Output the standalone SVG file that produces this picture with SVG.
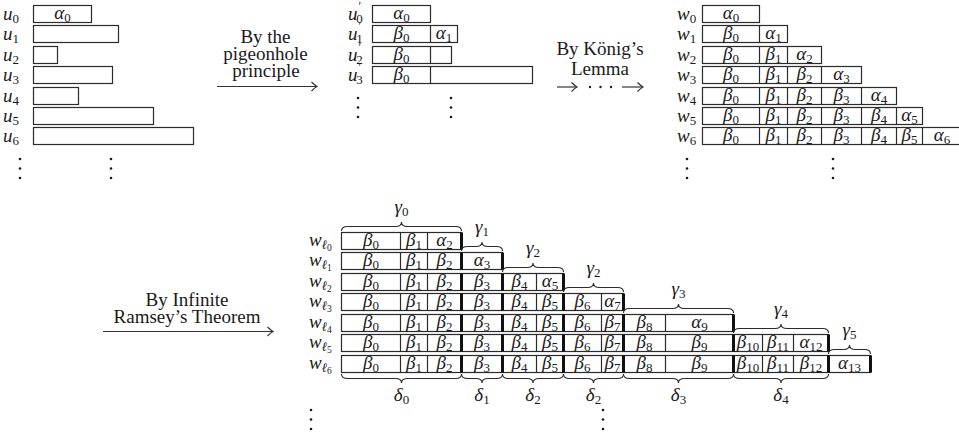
<svg xmlns="http://www.w3.org/2000/svg" width="959" height="437" viewBox="0 0 959 437">
<style>
.bx{fill:none;stroke:#2b2b2b;stroke-width:1.2}
.ln{stroke:#2b2b2b;stroke-width:1.2}
.tk{stroke:#111;stroke-width:3}
.m{font-family:"Liberation Serif","DejaVu Serif",serif;font-style:italic;font-size:19px;fill:#1a1a1a}
.c{text-anchor:middle}
.s{font-size:13px;font-style:normal}
.si{font-size:13px;font-style:italic}
.ss{font-size:9.5px;font-style:normal}
.pr{font-size:12px;font-style:normal}
.t{font-family:"Liberation Serif","DejaVu Serif",serif;font-size:19px;fill:#1a1a1a;text-anchor:middle}
.br{fill:none;stroke:#2b2b2b;stroke-width:1.1}
.ar{fill:none;stroke:#333;stroke-width:1.2}
.d{fill:#1a1a1a}
</style>

<!-- Panel 1: u rows -->
<g id="panel-u">
  <g id="u0"><text class="m" x="3" y="20">u<tspan class="s" dy="3">0</tspan></text><rect class="bx" x="33.5" y="5.5" width="58" height="17"/><text class="m c" x="62.5" y="19">α<tspan class="s" dy="3">0</tspan></text></g>
  <g id="u1"><text class="m" x="3" y="40">u<tspan class="s" dy="3">1</tspan></text><rect class="bx" x="33.5" y="25.5" width="85" height="17"/></g>
  <g id="u2"><text class="m" x="3" y="61">u<tspan class="s" dy="3">2</tspan></text><rect class="bx" x="33.5" y="46.5" width="24" height="17"/></g>
  <g id="u3"><text class="m" x="3" y="81">u<tspan class="s" dy="3">3</tspan></text><rect class="bx" x="33.5" y="66.5" width="79" height="17"/></g>
  <g id="u4"><text class="m" x="3" y="102">u<tspan class="s" dy="3">4</tspan></text><rect class="bx" x="33.5" y="87.5" width="45" height="17"/></g>
  <g id="u5"><text class="m" x="3" y="122">u<tspan class="s" dy="3">5</tspan></text><rect class="bx" x="33.5" y="107.5" width="120" height="17"/></g>
  <g id="u6"><text class="m" x="3" y="142">u<tspan class="s" dy="3">6</tspan></text><rect class="bx" x="33.5" y="127.5" width="160" height="17"/></g>
  <g id="u-dots"><circle class="d" cx="20" cy="159" r="1.3"/><circle class="d" cx="20" cy="168.5" r="1.3"/><circle class="d" cx="20" cy="178" r="1.3"/><circle class="d" cx="111" cy="159" r="1.3"/><circle class="d" cx="111" cy="168.5" r="1.3"/><circle class="d" cx="111" cy="178" r="1.3"/></g>
</g>

<!-- Panel 2: u' rows -->
<g id="panel-uprime">
  <g id="up0"><text class="m" x="348" y="20">u<tspan class="pr" dx="1" dy="-10">′</tspan><tspan class="s" dx="-5" dy="13">0</tspan></text><rect class="bx" x="372.5" y="5.5" width="58" height="17"/><text class="m c" x="401.5" y="19">α<tspan class="s" dy="3">0</tspan></text></g>
  <g id="up1"><text class="m" x="348" y="40">u<tspan class="pr" dx="1" dy="-10">′</tspan><tspan class="s" dx="-5" dy="13">1</tspan></text><rect class="bx" x="372.5" y="25.5" width="85" height="17"/><line class="ln" x1="430.5" y1="25.5" x2="430.5" y2="42.5"/><text class="m c" x="401.5" y="39">β<tspan class="s" dy="3">0</tspan></text><text class="m c" x="444" y="39">α<tspan class="s" dy="3">1</tspan></text></g>
  <g id="up2"><text class="m" x="348" y="61">u<tspan class="pr" dx="1" dy="-10">′</tspan><tspan class="s" dx="-5" dy="13">2</tspan></text><rect class="bx" x="372.5" y="46.5" width="79" height="17"/><line class="ln" x1="430.5" y1="46.5" x2="430.5" y2="63.5"/><text class="m c" x="401.5" y="60">β<tspan class="s" dy="3">0</tspan></text></g>
  <g id="up3"><text class="m" x="348" y="81">u<tspan class="pr" dx="1" dy="-10">′</tspan><tspan class="s" dx="-5" dy="13">3</tspan></text><rect class="bx" x="372.5" y="66.5" width="160" height="17"/><line class="ln" x1="430.5" y1="66.5" x2="430.5" y2="83.5"/><text class="m c" x="401.5" y="80">β<tspan class="s" dy="3">0</tspan></text></g>
  <g id="up-dots"><circle class="d" cx="358" cy="98" r="1.3"/><circle class="d" cx="358" cy="107.5" r="1.3"/><circle class="d" cx="358" cy="117" r="1.3"/><circle class="d" cx="451" cy="98" r="1.3"/><circle class="d" cx="451" cy="107.5" r="1.3"/><circle class="d" cx="451" cy="117" r="1.3"/></g>
</g>

<!-- Panel 3: w rows -->
<g id="panel-w">
  <g id="w0"><text class="m" x="677" y="20">w<tspan class="s" dy="3">0</tspan></text><rect class="bx" x="702.5" y="5.5" width="57" height="17"/><text class="m c" x="731" y="19">α<tspan class="s" dy="3">0</tspan></text></g>
  <g id="w1"><text class="m" x="677" y="40">w<tspan class="s" dy="3">1</tspan></text><rect class="bx" x="702.5" y="25.5" width="85" height="17"/><line class="ln" x1="759.5" y1="25.5" x2="759.5" y2="42.5"/><text class="m c" x="731" y="39">β<tspan class="s" dy="3">0</tspan></text><text class="m c" x="773.5" y="39">α<tspan class="s" dy="3">1</tspan></text></g>
  <g id="w2"><text class="m" x="677" y="61">w<tspan class="s" dy="3">2</tspan></text><rect class="bx" x="702.5" y="46.5" width="119" height="17"/><line class="ln" x1="759.5" y1="46.5" x2="759.5" y2="63.5"/><line class="ln" x1="787.5" y1="46.5" x2="787.5" y2="63.5"/><text class="m c" x="731" y="60">β<tspan class="s" dy="3">0</tspan></text><text class="m c" x="773.5" y="60">β<tspan class="s" dy="3">1</tspan></text><text class="m c" x="804.5" y="60">α<tspan class="s" dy="3">2</tspan></text></g>
  <g id="w3"><text class="m" x="677" y="81">w<tspan class="s" dy="3">3</tspan></text><rect class="bx" x="702.5" y="66.5" width="159" height="17"/><line class="ln" x1="759.5" y1="66.5" x2="759.5" y2="83.5"/><line class="ln" x1="787.5" y1="66.5" x2="787.5" y2="83.5"/><line class="ln" x1="821.5" y1="66.5" x2="821.5" y2="83.5"/><text class="m c" x="731" y="80">β<tspan class="s" dy="3">0</tspan></text><text class="m c" x="773.5" y="80">β<tspan class="s" dy="3">1</tspan></text><text class="m c" x="804.5" y="80">β<tspan class="s" dy="3">2</tspan></text><text class="m c" x="841.5" y="80">α<tspan class="s" dy="3">3</tspan></text></g>
  <g id="w4"><text class="m" x="677" y="102">w<tspan class="s" dy="3">4</tspan></text><rect class="bx" x="702.5" y="87.5" width="194" height="17"/><line class="ln" x1="759.5" y1="87.5" x2="759.5" y2="104.5"/><line class="ln" x1="787.5" y1="87.5" x2="787.5" y2="104.5"/><line class="ln" x1="821.5" y1="87.5" x2="821.5" y2="104.5"/><line class="ln" x1="861.5" y1="87.5" x2="861.5" y2="104.5"/><text class="m c" x="731" y="101">β<tspan class="s" dy="3">0</tspan></text><text class="m c" x="773.5" y="101">β<tspan class="s" dy="3">1</tspan></text><text class="m c" x="804.5" y="101">β<tspan class="s" dy="3">2</tspan></text><text class="m c" x="841.5" y="101">β<tspan class="s" dy="3">3</tspan></text><text class="m c" x="879" y="101">α<tspan class="s" dy="3">4</tspan></text></g>
  <g id="w5"><text class="m" x="677" y="122">w<tspan class="s" dy="3">5</tspan></text><rect class="bx" x="702.5" y="107.5" width="220" height="17"/><line class="ln" x1="759.5" y1="107.5" x2="759.5" y2="124.5"/><line class="ln" x1="787.5" y1="107.5" x2="787.5" y2="124.5"/><line class="ln" x1="821.5" y1="107.5" x2="821.5" y2="124.5"/><line class="ln" x1="861.5" y1="107.5" x2="861.5" y2="124.5"/><line class="ln" x1="896.5" y1="107.5" x2="896.5" y2="124.5"/><text class="m c" x="731" y="121">β<tspan class="s" dy="3">0</tspan></text><text class="m c" x="773.5" y="121">β<tspan class="s" dy="3">1</tspan></text><text class="m c" x="804.5" y="121">β<tspan class="s" dy="3">2</tspan></text><text class="m c" x="841.5" y="121">β<tspan class="s" dy="3">3</tspan></text><text class="m c" x="879" y="121">β<tspan class="s" dy="3">4</tspan></text><text class="m c" x="909.5" y="121">α<tspan class="s" dy="3">5</tspan></text></g>
  <g id="w6"><text class="m" x="677" y="142">w<tspan class="s" dy="3">6</tspan></text><rect class="bx" x="702.5" y="127.5" width="270" height="17"/><line class="ln" x1="759.5" y1="127.5" x2="759.5" y2="144.5"/><line class="ln" x1="787.5" y1="127.5" x2="787.5" y2="144.5"/><line class="ln" x1="821.5" y1="127.5" x2="821.5" y2="144.5"/><line class="ln" x1="861.5" y1="127.5" x2="861.5" y2="144.5"/><line class="ln" x1="896.5" y1="127.5" x2="896.5" y2="144.5"/><line class="ln" x1="922.5" y1="127.5" x2="922.5" y2="144.5"/><text class="m c" x="731" y="141">β<tspan class="s" dy="3">0</tspan></text><text class="m c" x="773.5" y="141">β<tspan class="s" dy="3">1</tspan></text><text class="m c" x="804.5" y="141">β<tspan class="s" dy="3">2</tspan></text><text class="m c" x="841.5" y="141">β<tspan class="s" dy="3">3</tspan></text><text class="m c" x="879" y="141">β<tspan class="s" dy="3">4</tspan></text><text class="m c" x="909.5" y="141">β<tspan class="s" dy="3">5</tspan></text><text class="m c" x="942" y="141">α<tspan class="s" dy="3">6</tspan></text></g>
  <g id="w-dots"><circle class="d" cx="687" cy="159" r="1.3"/><circle class="d" cx="687" cy="168.5" r="1.3"/><circle class="d" cx="687" cy="178" r="1.3"/><circle class="d" cx="833" cy="159" r="1.3"/><circle class="d" cx="833" cy="168.5" r="1.3"/><circle class="d" cx="833" cy="178" r="1.3"/></g>
</g>

<!-- Panel 4: w_l rows -->
<g id="panel-wl">
  <g id="wl0"><text class="m" x="309" y="246">w<tspan class="si" dy="2.5">ℓ</tspan><tspan class="ss" dy="2">0</tspan></text>
    <rect class="bx" x="341.5" y="232.5" width="120" height="17"/>
    <line class="ln" x1="400.5" y1="232.5" x2="400.5" y2="249.5"/><line class="ln" x1="427.5" y1="232.5" x2="427.5" y2="249.5"/>
    <line class="tk" x1="461.5" y1="232.5" x2="461.5" y2="249.5"/>
    <text class="m c" x="371" y="246">β<tspan class="s" dy="3">0</tspan></text><text class="m c" x="414" y="246">β<tspan class="s" dy="3">1</tspan></text><text class="m c" x="444.5" y="246">α<tspan class="s" dy="3">2</tspan></text></g>
  <g id="wl1"><text class="m" x="309" y="266">w<tspan class="si" dy="2.5">ℓ</tspan><tspan class="ss" dy="2">1</tspan></text>
    <rect class="bx" x="341.5" y="252.5" width="161" height="17"/>
    <line class="ln" x1="400.5" y1="252.5" x2="400.5" y2="269.5"/><line class="ln" x1="427.5" y1="252.5" x2="427.5" y2="269.5"/>
    <line class="tk" x1="461.5" y1="252.5" x2="461.5" y2="269.5"/><line class="tk" x1="502.5" y1="252.5" x2="502.5" y2="269.5"/>
    <text class="m c" x="371" y="266">β<tspan class="s" dy="3">0</tspan></text><text class="m c" x="414" y="266">β<tspan class="s" dy="3">1</tspan></text><text class="m c" x="444.5" y="266">β<tspan class="s" dy="3">2</tspan></text><text class="m c" x="482" y="266">α<tspan class="s" dy="3">3</tspan></text></g>
  <g id="wl2"><text class="m" x="309" y="287">w<tspan class="si" dy="2.5">ℓ</tspan><tspan class="ss" dy="2">2</tspan></text>
    <rect class="bx" x="341.5" y="273.5" width="222" height="17"/>
    <line class="ln" x1="400.5" y1="273.5" x2="400.5" y2="290.5"/><line class="ln" x1="427.5" y1="273.5" x2="427.5" y2="290.5"/><line class="ln" x1="536.5" y1="273.5" x2="536.5" y2="290.5"/>
    <line class="tk" x1="461.5" y1="273.5" x2="461.5" y2="290.5"/><line class="tk" x1="502.5" y1="273.5" x2="502.5" y2="290.5"/><line class="tk" x1="563.5" y1="273.5" x2="563.5" y2="290.5"/>
    <text class="m c" x="371" y="287">β<tspan class="s" dy="3">0</tspan></text><text class="m c" x="414" y="287">β<tspan class="s" dy="3">1</tspan></text><text class="m c" x="444.5" y="287">β<tspan class="s" dy="3">2</tspan></text><text class="m c" x="482" y="287">β<tspan class="s" dy="3">3</tspan></text><text class="m c" x="519.5" y="287">β<tspan class="s" dy="3">4</tspan></text><text class="m c" x="550" y="287">α<tspan class="s" dy="3">5</tspan></text></g>
  <g id="wl3"><text class="m" x="309" y="307">w<tspan class="si" dy="2.5">ℓ</tspan><tspan class="ss" dy="2">3</tspan></text>
    <rect class="bx" x="341.5" y="293.5" width="282" height="17"/>
    <line class="ln" x1="400.5" y1="293.5" x2="400.5" y2="310.5"/><line class="ln" x1="427.5" y1="293.5" x2="427.5" y2="310.5"/><line class="ln" x1="536.5" y1="293.5" x2="536.5" y2="310.5"/><line class="ln" x1="601.5" y1="293.5" x2="601.5" y2="310.5"/>
    <line class="tk" x1="461.5" y1="293.5" x2="461.5" y2="310.5"/><line class="tk" x1="502.5" y1="293.5" x2="502.5" y2="310.5"/><line class="tk" x1="563.5" y1="293.5" x2="563.5" y2="310.5"/><line class="tk" x1="623.5" y1="293.5" x2="623.5" y2="310.5"/>
    <text class="m c" x="371" y="307">β<tspan class="s" dy="3">0</tspan></text><text class="m c" x="414" y="307">β<tspan class="s" dy="3">1</tspan></text><text class="m c" x="444.5" y="307">β<tspan class="s" dy="3">2</tspan></text><text class="m c" x="482" y="307">β<tspan class="s" dy="3">3</tspan></text><text class="m c" x="519.5" y="307">β<tspan class="s" dy="3">4</tspan></text><text class="m c" x="550" y="307">β<tspan class="s" dy="3">5</tspan></text><text class="m c" x="582.5" y="307">β<tspan class="s" dy="3">6</tspan></text><text class="m c" x="612.5" y="307">α<tspan class="s" dy="3">7</tspan></text></g>
  <g id="wl4"><text class="m" x="309" y="328">w<tspan class="si" dy="2.5">ℓ</tspan><tspan class="ss" dy="2">4</tspan></text>
    <rect class="bx" x="341.5" y="314.5" width="392" height="17"/>
    <line class="ln" x1="400.5" y1="314.5" x2="400.5" y2="331.5"/><line class="ln" x1="427.5" y1="314.5" x2="427.5" y2="331.5"/><line class="ln" x1="536.5" y1="314.5" x2="536.5" y2="331.5"/><line class="ln" x1="601.5" y1="314.5" x2="601.5" y2="331.5"/><line class="ln" x1="665.5" y1="314.5" x2="665.5" y2="331.5"/>
    <line class="tk" x1="461.5" y1="314.5" x2="461.5" y2="331.5"/><line class="tk" x1="502.5" y1="314.5" x2="502.5" y2="331.5"/><line class="tk" x1="563.5" y1="314.5" x2="563.5" y2="331.5"/><line class="tk" x1="623.5" y1="314.5" x2="623.5" y2="331.5"/><line class="tk" x1="733.5" y1="314.5" x2="733.5" y2="331.5"/>
    <text class="m c" x="371" y="328">β<tspan class="s" dy="3">0</tspan></text><text class="m c" x="414" y="328">β<tspan class="s" dy="3">1</tspan></text><text class="m c" x="444.5" y="328">β<tspan class="s" dy="3">2</tspan></text><text class="m c" x="482" y="328">β<tspan class="s" dy="3">3</tspan></text><text class="m c" x="519.5" y="328">β<tspan class="s" dy="3">4</tspan></text><text class="m c" x="550" y="328">β<tspan class="s" dy="3">5</tspan></text><text class="m c" x="582.5" y="328">β<tspan class="s" dy="3">6</tspan></text><text class="m c" x="612.5" y="328">β<tspan class="s" dy="3">7</tspan></text><text class="m c" x="644.5" y="328">β<tspan class="s" dy="3">8</tspan></text><text class="m c" x="699.5" y="328">α<tspan class="s" dy="3">9</tspan></text></g>
  <g id="wl5"><text class="m" x="309" y="348">w<tspan class="si" dy="2.5">ℓ</tspan><tspan class="ss" dy="2">5</tspan></text>
    <rect class="bx" x="341.5" y="334.5" width="487" height="17"/>
    <line class="ln" x1="400.5" y1="334.5" x2="400.5" y2="351.5"/><line class="ln" x1="427.5" y1="334.5" x2="427.5" y2="351.5"/><line class="ln" x1="536.5" y1="334.5" x2="536.5" y2="351.5"/><line class="ln" x1="601.5" y1="334.5" x2="601.5" y2="351.5"/><line class="ln" x1="665.5" y1="334.5" x2="665.5" y2="351.5"/><line class="ln" x1="762.5" y1="334.5" x2="762.5" y2="351.5"/><line class="ln" x1="793.5" y1="334.5" x2="793.5" y2="351.5"/>
    <line class="tk" x1="461.5" y1="334.5" x2="461.5" y2="351.5"/><line class="tk" x1="502.5" y1="334.5" x2="502.5" y2="351.5"/><line class="tk" x1="563.5" y1="334.5" x2="563.5" y2="351.5"/><line class="tk" x1="623.5" y1="334.5" x2="623.5" y2="351.5"/><line class="tk" x1="733.5" y1="334.5" x2="733.5" y2="351.5"/><line class="tk" x1="828.5" y1="334.5" x2="828.5" y2="351.5"/>
    <text class="m c" x="371" y="348">β<tspan class="s" dy="3">0</tspan></text><text class="m c" x="414" y="348">β<tspan class="s" dy="3">1</tspan></text><text class="m c" x="444.5" y="348">β<tspan class="s" dy="3">2</tspan></text><text class="m c" x="482" y="348">β<tspan class="s" dy="3">3</tspan></text><text class="m c" x="519.5" y="348">β<tspan class="s" dy="3">4</tspan></text><text class="m c" x="550" y="348">β<tspan class="s" dy="3">5</tspan></text><text class="m c" x="582.5" y="348">β<tspan class="s" dy="3">6</tspan></text><text class="m c" x="612.5" y="348">β<tspan class="s" dy="3">7</tspan></text><text class="m c" x="644.5" y="348">β<tspan class="s" dy="3">8</tspan></text><text class="m c" x="699.5" y="348">β<tspan class="s" dy="3">9</tspan></text><text class="m c" x="748" y="348">β<tspan class="s" dy="3">10</tspan></text><text class="m c" x="778" y="348">β<tspan class="s" dy="3">11</tspan></text><text class="m c" x="811" y="348">α<tspan class="s" dy="3">12</tspan></text></g>
  <g id="wl6"><text class="m" x="309" y="369">w<tspan class="si" dy="2.5">ℓ</tspan><tspan class="ss" dy="2">6</tspan></text>
    <rect class="bx" x="341.5" y="355.5" width="529" height="17"/>
    <line class="ln" x1="400.5" y1="355.5" x2="400.5" y2="372.5"/><line class="ln" x1="427.5" y1="355.5" x2="427.5" y2="372.5"/><line class="ln" x1="536.5" y1="355.5" x2="536.5" y2="372.5"/><line class="ln" x1="601.5" y1="355.5" x2="601.5" y2="372.5"/><line class="ln" x1="665.5" y1="355.5" x2="665.5" y2="372.5"/><line class="ln" x1="762.5" y1="355.5" x2="762.5" y2="372.5"/><line class="ln" x1="793.5" y1="355.5" x2="793.5" y2="372.5"/>
    <line class="tk" x1="461.5" y1="355.5" x2="461.5" y2="372.5"/><line class="tk" x1="502.5" y1="355.5" x2="502.5" y2="372.5"/><line class="tk" x1="563.5" y1="355.5" x2="563.5" y2="372.5"/><line class="tk" x1="623.5" y1="355.5" x2="623.5" y2="372.5"/><line class="tk" x1="733.5" y1="355.5" x2="733.5" y2="372.5"/><line class="tk" x1="828.5" y1="355.5" x2="828.5" y2="372.5"/><line class="tk" x1="870.5" y1="355.5" x2="870.5" y2="372.5"/>
    <text class="m c" x="371" y="369">β<tspan class="s" dy="3">0</tspan></text><text class="m c" x="414" y="369">β<tspan class="s" dy="3">1</tspan></text><text class="m c" x="444.5" y="369">β<tspan class="s" dy="3">2</tspan></text><text class="m c" x="482" y="369">β<tspan class="s" dy="3">3</tspan></text><text class="m c" x="519.5" y="369">β<tspan class="s" dy="3">4</tspan></text><text class="m c" x="550" y="369">β<tspan class="s" dy="3">5</tspan></text><text class="m c" x="582.5" y="369">β<tspan class="s" dy="3">6</tspan></text><text class="m c" x="612.5" y="369">β<tspan class="s" dy="3">7</tspan></text><text class="m c" x="644.5" y="369">β<tspan class="s" dy="3">8</tspan></text><text class="m c" x="699.5" y="369">β<tspan class="s" dy="3">9</tspan></text><text class="m c" x="748" y="369">β<tspan class="s" dy="3">10</tspan></text><text class="m c" x="778" y="369">β<tspan class="s" dy="3">11</tspan></text><text class="m c" x="811" y="369">β<tspan class="s" dy="3">12</tspan></text><text class="m c" x="849.5" y="369">α<tspan class="s" dy="3">13</tspan></text></g>

  <g id="gamma-braces">
    <path class="br" d="M341.5,231 Q341.5,226.5 347.5,226.5 L395.5,226.5 Q401.5,226.5 401.5,222 Q401.5,226.5 407.5,226.5 L455.5,226.5 Q461.5,226.5 461.5,231"/>
    <text class="m c" x="401.5" y="213">γ<tspan class="s" dy="3">0</tspan></text>
    <path class="br" d="M461.5,251 Q461.5,246.5 467.5,246.5 L476,246.5 Q482,246.5 482,242 Q482,246.5 488,246.5 L496.5,246.5 Q502.5,246.5 502.5,251"/>
    <text class="m c" x="482" y="233">γ<tspan class="s" dy="3">1</tspan></text>
    <path class="br" d="M502.5,272 Q502.5,267.5 508.5,267.5 L527,267.5 Q533,267.5 533,263 Q533,267.5 539,267.5 L557.5,267.5 Q563.5,267.5 563.5,272"/>
    <text class="m c" x="533" y="254">γ<tspan class="s" dy="3">2</tspan></text>
    <path class="br" d="M563.5,292 Q563.5,287.5 569.5,287.5 L587.5,287.5 Q593.5,287.5 593.5,283 Q593.5,287.5 599.5,287.5 L617.5,287.5 Q623.5,287.5 623.5,292"/>
    <text class="m c" x="593.5" y="274">γ<tspan class="s" dy="3">2</tspan></text>
    <path class="br" d="M623.5,313 Q623.5,308.5 629.5,308.5 L672.5,308.5 Q678.5,308.5 678.5,304 Q678.5,308.5 684.5,308.5 L727.5,308.5 Q733.5,308.5 733.5,313"/>
    <text class="m c" x="678.5" y="295">γ<tspan class="s" dy="3">3</tspan></text>
    <path class="br" d="M733.5,333 Q733.5,328.5 739.5,328.5 L775,328.5 Q781,328.5 781,324 Q781,328.5 787,328.5 L822.5,328.5 Q828.5,328.5 828.5,333"/>
    <text class="m c" x="781" y="315">γ<tspan class="s" dy="3">4</tspan></text>
    <path class="br" d="M828.5,354 Q828.5,349.5 834.5,349.5 L843.5,349.5 Q849.5,349.5 849.5,345 Q849.5,349.5 855.5,349.5 L864.5,349.5 Q870.5,349.5 870.5,354"/>
    <text class="m c" x="849.5" y="336">γ<tspan class="s" dy="3">5</tspan></text>
  </g>
  <g id="delta-braces">
    <path class="br" d="M341.5,374 Q341.5,378.5 347.5,378.5 L395.5,378.5 Q401.5,378.5 401.5,383 Q401.5,378.5 407.5,378.5 L455.5,378.5 Q461.5,378.5 461.5,374"/>
    <text class="m c" x="401.5" y="401">δ<tspan class="s" dy="3">0</tspan></text>
    <path class="br" d="M461.5,374 Q461.5,378.5 467.5,378.5 L476,378.5 Q482,378.5 482,383 Q482,378.5 488,378.5 L496.5,378.5 Q502.5,378.5 502.5,374"/>
    <text class="m c" x="482" y="401">δ<tspan class="s" dy="3">1</tspan></text>
    <path class="br" d="M502.5,374 Q502.5,378.5 508.5,378.5 L527,378.5 Q533,378.5 533,383 Q533,378.5 539,378.5 L557.5,378.5 Q563.5,378.5 563.5,374"/>
    <text class="m c" x="533" y="401">δ<tspan class="s" dy="3">2</tspan></text>
    <path class="br" d="M563.5,374 Q563.5,378.5 569.5,378.5 L587.5,378.5 Q593.5,378.5 593.5,383 Q593.5,378.5 599.5,378.5 L617.5,378.5 Q623.5,378.5 623.5,374"/>
    <text class="m c" x="593.5" y="401">δ<tspan class="s" dy="3">2</tspan></text>
    <path class="br" d="M623.5,374 Q623.5,378.5 629.5,378.5 L672.5,378.5 Q678.5,378.5 678.5,383 Q678.5,378.5 684.5,378.5 L727.5,378.5 Q733.5,378.5 733.5,374"/>
    <text class="m c" x="678.5" y="401">δ<tspan class="s" dy="3">3</tspan></text>
    <path class="br" d="M733.5,374 Q733.5,378.5 739.5,378.5 L775,378.5 Q781,378.5 781,383 Q781,378.5 787,378.5 L822.5,378.5 Q828.5,378.5 828.5,374"/>
    <text class="m c" x="781" y="401">δ<tspan class="s" dy="3">4</tspan></text>
  </g>
  <g id="wl-dots"><circle class="d" cx="311" cy="410" r="1.3"/><circle class="d" cx="311" cy="419.5" r="1.3"/><circle class="d" cx="311" cy="429" r="1.3"/><circle class="d" cx="603" cy="410" r="1.3"/><circle class="d" cx="603" cy="419.5" r="1.3"/><circle class="d" cx="603" cy="429" r="1.3"/></g>
</g>

<!-- Connectors -->
<g id="connectors">
  <g id="arrow-pigeonhole">
    <text class="t" x="265.5" y="43">By the</text>
    <text class="t" x="265.5" y="60">pigeonhole</text>
    <text class="t" x="266" y="77">principle</text>
    <path class="ar" d="M217,86.5 H316.5"/>
    <path class="ar" d="M311.5,82 Q315,85.5 317,86.5 Q315,87.5 311.5,91"/>
  </g>
  <g id="arrow-konig">
    <text class="t" x="600" y="55">By König’s</text>
    <text class="t" x="600" y="75">Lemma</text>
    <path class="ar" d="M557,87 H576.5"/>
    <path class="ar" d="M571.5,82.5 Q575,86 577,87 Q575,88 571.5,91.5"/>
    <circle class="d" cx="590" cy="87" r="1.2"/><circle class="d" cx="600.5" cy="87" r="1.2"/><circle class="d" cx="611" cy="87" r="1.2"/>
    <path class="ar" d="M622,87 H642.5"/>
    <path class="ar" d="M637.5,82.5 Q641,86 643,87 Q641,88 637.5,91.5"/>
  </g>
  <g id="arrow-ramsey">
    <text class="t" x="187" y="306">By Infinite</text>
    <text class="t" x="187" y="322.5">Ramsey’s Theorem</text>
    <path class="ar" d="M103,331.5 H272.5"/>
    <path class="ar" d="M267.5,327 Q271,330.5 273,331.5 Q271,332.5 267.5,336"/>
  </g>
</g>
</svg>
